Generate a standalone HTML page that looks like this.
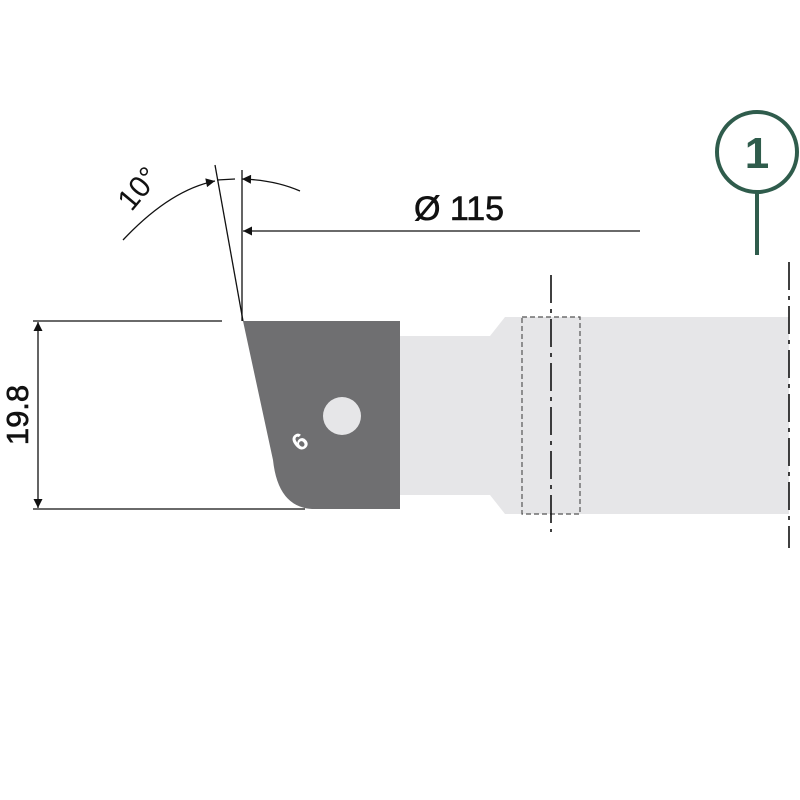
<!DOCTYPE html>
<html><head><meta charset="utf-8"><style>
html,body{margin:0;padding:0;background:#fff;}
svg{display:block;}
</style></head><body>
<svg width="800" height="800" viewBox="0 0 800 800" xmlns="http://www.w3.org/2000/svg">
<defs>
<marker id="ar2" viewBox="0 0 10 10" refX="10" refY="5" markerWidth="18" markerHeight="9" markerUnits="userSpaceOnUse" orient="auto-start-reverse">
<path d="M0,0 L10,5 L0,10 z" fill="#111"/></marker>
</defs>
<path d="M400,336 L490,336 L505,317 L789,317 L789,514 L505,514 L490,495 L400,495 Z" fill="#e6e6e8"/>
<rect x="522" y="317" width="58" height="197" fill="none" stroke="#555" stroke-width="1.2" stroke-dasharray="5,3"/>
<line x1="551" y1="275" x2="551" y2="532" stroke="#111" stroke-width="1.6" stroke-dasharray="28,6,4,6"/>
<line x1="789" y1="262" x2="789" y2="548" stroke="#111" stroke-width="1.6" stroke-dasharray="28,6,4,6"/>
<path d="M243,321 L400,321 L400,509 L312,509 Q278,507 273,460 Z" fill="#6f6f71"/>
<circle cx="342" cy="416" r="19" fill="#e6e6e8"/>
<text transform="translate(300,442) rotate(-40)" font-family="Liberation Sans, sans-serif" font-size="24" font-weight="bold" fill="#fff" text-anchor="middle" dy="8">6</text>
<line x1="242" y1="170" x2="242" y2="321" stroke="#111" stroke-width="1.3"/>
<line x1="215" y1="165" x2="243" y2="321" stroke="#111" stroke-width="1.3"/>
<path d="M123,240 Q170,190 215,181" fill="none" stroke="#111" stroke-width="1.3" marker-end="url(#ar2)"/>
<line x1="217" y1="180" x2="235" y2="179" stroke="#111" stroke-width="1.3"/>
<path d="M300,191 Q275,180 242,179" fill="none" stroke="#111" stroke-width="1.3" marker-end="url(#ar2)"/>
<text transform="translate(146,195) rotate(-50)" font-family="Liberation Sans, sans-serif" font-size="30" fill="#111" text-anchor="middle">10°</text>
<line x1="640" y1="231" x2="243" y2="231" stroke="#111" stroke-width="1.3" marker-end="url(#ar2)"/>
<text x="459" y="220" font-family="Liberation Sans, sans-serif" font-size="34" fill="#111" text-anchor="middle" stroke="#111" stroke-width="0.6">Ø 115</text>
<line x1="33" y1="321" x2="222" y2="321" stroke="#111" stroke-width="1.3"/>
<line x1="33" y1="509" x2="305" y2="509" stroke="#111" stroke-width="1.3"/>
<line x1="38" y1="415" x2="38" y2="322" stroke="#111" stroke-width="1.3" marker-end="url(#ar2)"/>
<line x1="38" y1="415" x2="38" y2="508" stroke="#111" stroke-width="1.3" marker-end="url(#ar2)"/>
<text transform="translate(28,415) rotate(-90)" font-family="Liberation Sans, sans-serif" font-size="31" fill="#111" text-anchor="middle" stroke="#111" stroke-width="0.6">19.8</text>
<circle cx="757" cy="152" r="40" fill="none" stroke="#2f5c4c" stroke-width="4"/>
<text x="757" y="168" font-family="Liberation Sans, sans-serif" font-size="44" font-weight="bold" fill="#2f5c4c" text-anchor="middle">1</text>
<line x1="757" y1="192" x2="757" y2="255" stroke="#2f5c4c" stroke-width="4"/>
</svg>
</body></html>
